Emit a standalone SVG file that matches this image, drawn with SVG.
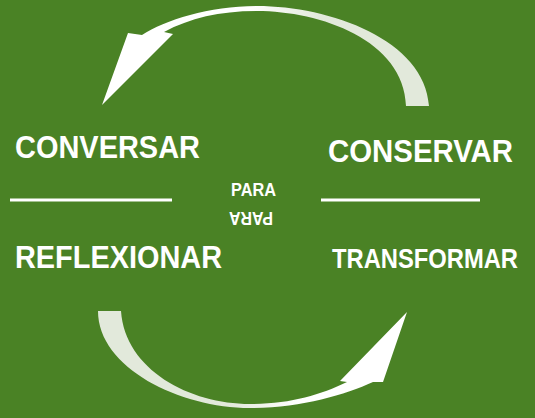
<svg xmlns="http://www.w3.org/2000/svg" width="535" height="418" viewBox="0 0 535 418">
<defs>
<style>
.t{font-family:"Liberation Sans",Arial,sans-serif;font-weight:bold;fill:#ffffff}
.ln{stroke:#ffffff;stroke-width:3;fill:none}
</style>
<linearGradient id="gTop" gradientUnits="userSpaceOnUse" x1="250" y1="0" x2="320" y2="0">
<stop offset="0" stop-color="#ffffff"/>
<stop offset="1" stop-color="#E2E9DB"/>
</linearGradient>
<linearGradient id="gBot" gradientUnits="userSpaceOnUse" x1="230" y1="0" x2="300" y2="0">
<stop offset="0" stop-color="#E2E9DB"/>
<stop offset="1" stop-color="#ffffff"/>
</linearGradient>
</defs>
<rect x="0" y="0" width="535" height="418" fill="#4A8225"/>
<g id="connectors">
<path id="arrow-top" fill="url(#gTop)" d="M429,106 C425,40 330,6 257,6 C210,6 165,20 142,35 L128,33 L102,105 L173,34 L164,32 C190,18 220,11 257,11 C320,11 404,40 406,106 Z"/>
<path id="arrow-bottom" fill="url(#gBot)" d="M98,311 C98,368 180,408 250,408 C300,408 345,395 373,382 L383,382 L407,312 L340,381 L347,382 C320,395 290,404 250,404 C190,404 125,370 121,311 Z"/>
</g>
<g id="conversar"><text class="t" x="15" y="158" font-size="32" textLength="185" lengthAdjust="spacingAndGlyphs">CONVERSAR</text></g>
<g id="conservar"><text class="t" x="328" y="162" font-size="31" textLength="185" lengthAdjust="spacingAndGlyphs">CONSERVAR</text></g>
<g id="reflexionar"><text class="t" x="15" y="268" font-size="32" textLength="207" lengthAdjust="spacingAndGlyphs">REFLEXIONAR</text></g>
<g id="transformar"><text class="t" transform="translate(332,268) scale(1,1.2)" x="0" y="0" font-size="23.5" textLength="186" lengthAdjust="spacingAndGlyphs">TRANSFORMAR</text></g>
<g id="line-left"><line class="ln" x1="10" y1="200" x2="172" y2="200"/></g>
<g id="line-right"><line class="ln" x1="321" y1="200" x2="480" y2="200"/></g>
<g id="para"><text class="t" x="231" y="196" font-size="18" textLength="45" lengthAdjust="spacingAndGlyphs">PARA</text></g>
<g id="para-inverted"><text class="t" transform="translate(273,212) rotate(180)" x="0" y="0" font-size="18" textLength="44" lengthAdjust="spacingAndGlyphs">PARA</text></g>
</svg>
